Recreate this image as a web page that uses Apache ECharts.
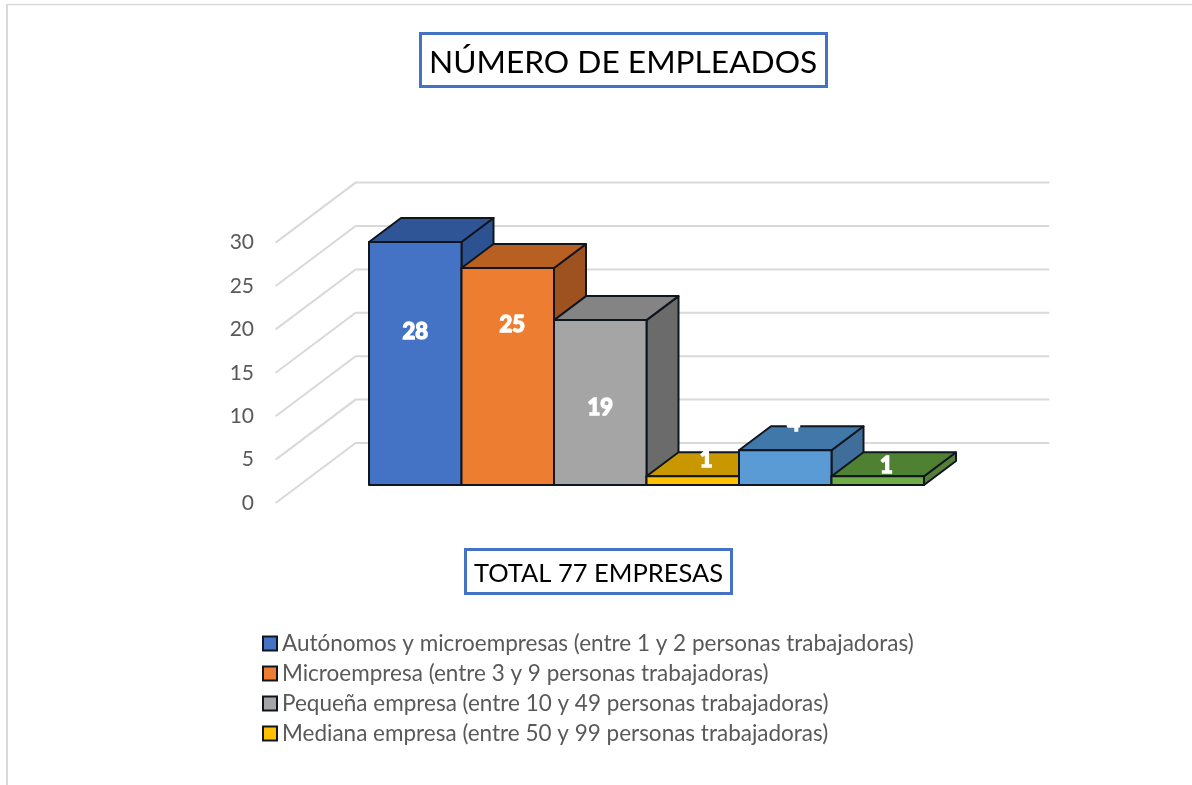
<!DOCTYPE html>
<html>
<head>
<meta charset="utf-8">
<title>Número de empleados</title>
<style>
  html, body { margin: 0; padding: 0; background: #fff; }
  #chart { width: 1192px; height: 785px; }
</style>
<script src="https://cdn.jsdelivr.net/npm/echarts@6/dist/echarts.min.js"></script>
</head>
<body>
<div id="chart"></div>
<script>
// the source legend is cut off after four entries, the last two names are placeholders
const segments = [
    'Autónomos y microempresas (entre 1 y 2 personas trabajadoras)',
    'Microempresa (entre 3 y 9 personas trabajadoras)',
    'Pequeña empresa (entre 10 y 49 personas trabajadoras)',
    'Mediana empresa (entre 50 y 99 personas trabajadoras)',
    'Serie 5',
    'Serie 6'
];
const companies = [28, 25, 19, 1, 4, 1];
const yTicks = [0, 5, 10, 15, 20, 25, 30];
const legendNames = segments.slice(0, 4);

const frontColors = ['#4472C4', '#ED7D31', '#A5A5A5', '#FFC000', '#5B9BD5', '#70AD47'];
const topColors = ['#2F5597', '#B85F22', '#848484', '#C99700', '#4178AA', '#4F8132'];
const sideColors = ['#2D5291', '#9E5220', '#6B6B6B', '#A67C00', '#3F6E9B', '#557F38'];
// excel dropped the data labels away from the bar centre, offsets from the top middle of the front face
const labelOffsets = [[0, 90], [4.5, 57], [0, 88], [13.5, -16], [8.5, -26], [8.7, -10]];

const FONT = 'Lato';
const EDGE = '#10161f';
const BAR_DX = 32, BAR_DY = -24;     // depth of a bar
const GAP_DX = 24, GAP_DY = -18;     // floor in front of and behind the bars
const SIDE_GAP = 0.75;               // wall margin left and right, in bar widths

function poly(points, fill) {
    return {
        type: 'polygon',
        shape: { points: points },
        style: { fill: fill, stroke: EDGE, lineWidth: 2, lineJoin: 'round' }
    };
}

function renderBar(index) {
    return function (params, api) {
        const value = api.value(1);
        const top = api.coord([api.value(0), value]);
        const base = api.coord([api.value(0), 0]);
        const half = api.size([1, 0])[0] / 2;
        const l = top[0] - half, r = top[0] + half;
        return {
            type: 'group',
            children: [
                poly([[r, top[1]], [r + BAR_DX, top[1] + BAR_DY], [r + BAR_DX, base[1] + BAR_DY], [r, base[1]]], sideColors[index]),
                poly([[l, top[1]], [r, top[1]], [r + BAR_DX, top[1] + BAR_DY], [l + BAR_DX, top[1] + BAR_DY]], topColors[index]),
                poly([[l, top[1]], [r, top[1]], [r, base[1]], [l, base[1]]], frontColors[index]),
                {
                    type: 'text',
                    z2: 10,
                    style: {
                        x: top[0] + labelOffsets[index][0],
                        y: top[1] + labelOffsets[index][1],
                        text: String(value),
                        fill: '#fff',
                        stroke: '#fff',
                        lineWidth: 1.5,
                        font: 'bold 22px ' + FONT,
                        align: 'center',
                        verticalAlign: 'middle'
                    }
                }
            ]
        };
    };
}

function renderWall(params, api) {
    const p = api.coord([0, api.value(0)]);
    const band = api.size([1, 0])[0];
    const left = p[0] - band / 2 - SIDE_GAP * band;
    const right = left + (segments.length + 2 * SIDE_GAP) * band;
    const backY = p[1] + BAR_DY + GAP_DY;
    const backDx = BAR_DX + GAP_DX;
    return {
        type: 'polyline',
        shape: {
            points: [
                [left - GAP_DX, p[1] - GAP_DY],
                [left + backDx, backY],
                [right + backDx, backY]
            ]
        },
        style: { fill: null, stroke: '#D9D9D9', lineWidth: 2 }
    };
}

const chart = echarts.init(document.getElementById('chart'));

const boxTitle = (text, left, top, fontSize, padding) => ({
    text: text,
    left: left,
    top: top,
    padding: padding,
    borderColor: '#4472C4',
    borderWidth: 3,
    textStyle: { fontFamily: FONT, fontSize: fontSize, fontWeight: 'normal', color: '#000' }
});

chart.setOption({
    animation: false,
    backgroundColor: '#fff',
    title: [
        boxTitle('NÚMERO DE EMPLEADOS', 420, 33, 31.7, [14, 9, 8, 9]),
        boxTitle('TOTAL 77 EMPRESAS', 465, 549, 25.5, [12, 9, 7, 9])
    ],
    legend: {
        data: legendNames,
        orient: 'vertical',
        left: 262,
        top: 632,
        itemWidth: 14,
        itemHeight: 14,
        itemGap: 7,
        icon: 'rect',
        selectedMode: false,
        padding: 0,
        itemStyle: { borderColor: EDGE, borderWidth: 2 },
        textStyle: { fontFamily: FONT, fontSize: 22.5, lineHeight: 20, color: '#595959' }
    },
    grid: { left: 369, right: 268, top: 224.6, bottom: 300 },
    xAxis: { type: 'category', data: segments, show: false },
    yAxis: {
        type: 'value',
        min: 0,
        max: 30,
        interval: 5,
        axisLine: { show: false },
        axisTick: { show: false },
        splitLine: { show: false },
        axisLabel: {
            margin: 115,
            verticalAlign: 'top',
            lineHeight: 36,
            fontFamily: FONT,
            fontSize: 21,
            color: '#595959'
        }
    },
    series: [
        {
            name: 'Pared',
            type: 'custom',
            silent: true,
            encode: { y: 0 },
            data: yTicks.map((v) => [v]),
            renderItem: renderWall
        }
    ].concat(segments.map((name, i) => ({
        name: name,
        type: 'custom',
        encode: { x: 0, y: 1 },
        itemStyle: { color: frontColors[i] },
        data: [[i, companies[i]]],
        renderItem: renderBar(i)
    }))),
    graphic: [
        { type: 'line', shape: { x1: 7, y1: 4.5, x2: 1192, y2: 4.5 }, style: { stroke: '#D9D9D9', lineWidth: 1.5 } },
        { type: 'line', shape: { x1: 7, y1: 4, x2: 7, y2: 785 }, style: { stroke: '#D9D9D9', lineWidth: 2 } }
    ]
});
</script>
</body>
</html>
